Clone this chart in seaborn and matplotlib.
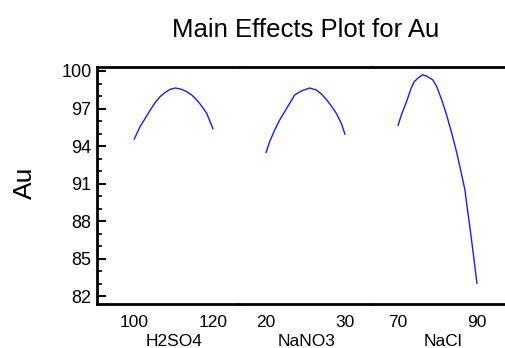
import pandas as pd
import matplotlib
matplotlib.use('Agg')
import matplotlib.pyplot as plt
from matplotlib.ticker import MultipleLocator
import seaborn as sns

# values
h2so4_level = [100, 101.5, 102.8, 104.1, 105.3, 106.6, 107.8, 109.1, 110.5,
               112.1, 113.3, 114.6, 115.9, 117.1, 118.4, 120]
h2so4_au = [94.53, 95.55, 96.21, 96.88, 97.47, 97.95, 98.27, 98.53, 98.64,
            98.53, 98.35, 98.08, 97.68, 97.2, 96.61, 95.36]

nano3_level = [20, 20.47, 21.1, 21.73, 22.37, 23.0, 23.63, 24.47, 25.53,
               26.37, 27.0, 27.63, 28.27, 28.9, 29.53, 30]
nano3_au = [93.46, 94.35, 95.28, 96.08, 96.75, 97.42, 98.08, 98.4, 98.64,
            98.48, 98.16, 97.73, 97.2, 96.61, 95.81, 94.93]

nacl_level = [70, 70.9, 72.2, 73.2, 74.05, 75.1, 76.25, 77.4, 78.8, 79.8,
              81.06, 82.3, 83.6, 84.9, 85.87, 86.96, 87.5, 88.2, 89.06, 90]
nacl_au = [95.63, 96.51, 97.58, 98.5, 99.12, 99.44, 99.7, 99.57, 99.3, 98.77,
           97.7, 96.5, 95.04, 93.44, 92.08, 90.48, 89.14, 87.54, 85.42, 83.0]

factors = ['H2SO4', 'NaNO3', 'NaCl']
low_high = [(100, 120), (20, 30), (70, 90)]
y_ticks = [82, 85, 88, 91, 94, 97, 100]

frames = []
for name, lv, au in zip(factors, [h2so4_level, nano3_level, nacl_level],
                        [h2so4_au, nano3_au, nacl_au]):
    frames.append(pd.DataFrame({'factor': name, 'level': lv, 'Au': au}))
df = pd.concat(frames, ignore_index=True)

sns.set_style("ticks")
plt.rcParams['font.family'] = ['Liberation Sans', 'DejaVu Sans']
for k in ['text.color', 'axes.labelcolor', 'xtick.color', 'ytick.color']:
    plt.rcParams[k] = 'black'

fig, axes = plt.subplots(1, 3, figsize=(5.06, 3.48), dpi=100, sharey=True,
                         gridspec_kw=dict(width_ratios=[142.5, 132, 133.5], wspace=0))
fig.subplots_adjust(left=97/506, right=505/506, top=1-67/348, bottom=1-304/348)

xlims = [(90.6, 126.7), (16.65, 33.35), (63.3, 97.1)]
label_x = [0.54, 0.511, 0.536]
for i, ax in enumerate(axes):
    sub = df[df['factor'] == factors[i]]
    sns.lineplot(data=sub, x='level', y='Au', ax=ax, color='#1a1aff', lw=1,
                 estimator=None, sort=False)
    ax.set_xlim(*xlims[i])
    ax.set_xticks(list(low_high[i]))
    ax.set_xticklabels([str(v) for v in low_high[i]], fontsize=12.5)
    ax.set_xlabel(factors[i], fontsize=12.5)
    ax.xaxis.set_label_coords(label_x[i], -0.125)
    ax.set_ylabel('')
    ax.tick_params(axis='x', length=0, pad=8)
    for s in ['top', 'bottom', 'left', 'right']:
        ax.spines[s].set_linewidth(2)
        ax.spines[s].set_color('black')
    ax.spines['right'].set_visible(False)
    if i > 0:
        ax.spines['left'].set_visible(False)
        ax.tick_params(axis='y', which='both', left=False, labelleft=False)

ax0 = axes[0]
ax0.set_ylim(81.36, 100.32)
ax0.set_yticks(y_ticks)
ax0.yaxis.set_minor_locator(MultipleLocator(1))
ax0.tick_params(axis='y', which='major', direction='in', length=6.5, width=1.5,
                labelsize=13, pad=4)
ax0.tick_params(axis='y', which='minor', direction='in', length=3.5, width=1.2)

fig.text(306/506, 1-30/348, 'Main Effects Plot for Au', fontsize=18.5,
         ha='center', va='center')
fig.text(25/506, 1-183/348, 'Au', fontsize=19, rotation=90,
         ha='center', va='center')

plt.savefig('out.png', dpi=100)
